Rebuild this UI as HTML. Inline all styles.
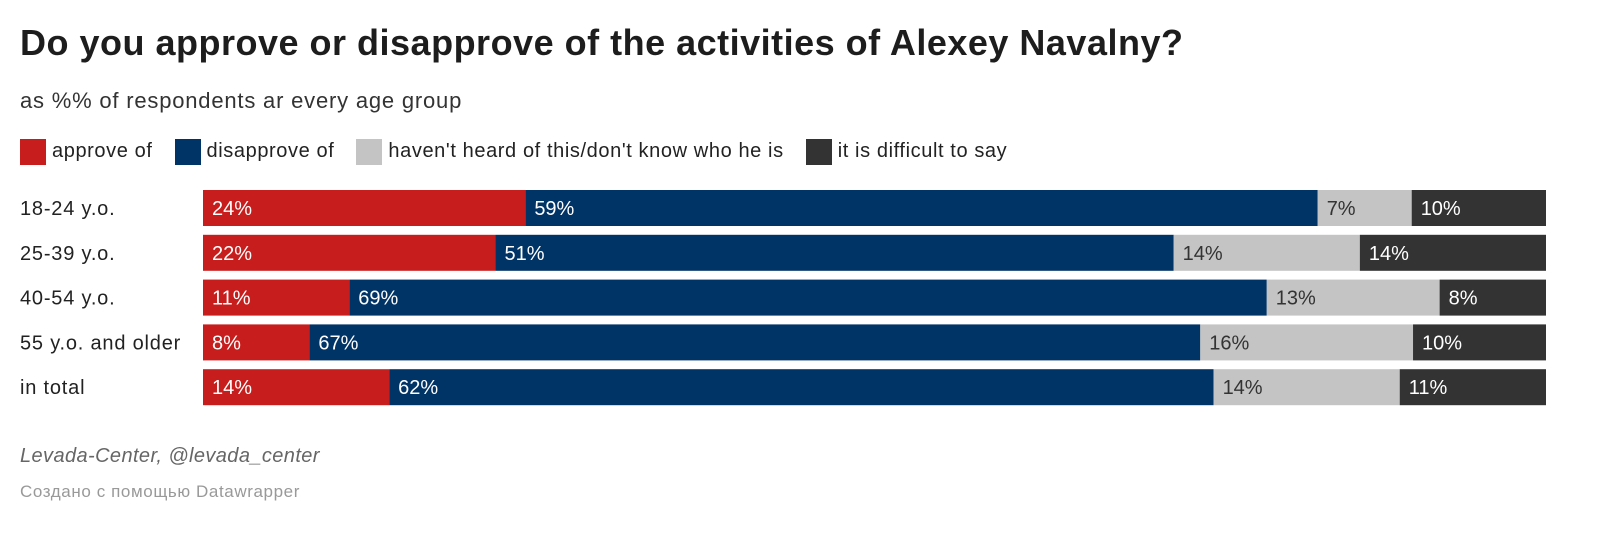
<!DOCTYPE html>
<html><head><meta charset="utf-8"><style>
body{margin:0;width:1600px;height:534px;background:#fff;font-family:"Liberation Sans","Noto Sans CJK SC",sans-serif;overflow:hidden;position:relative}
.abs{position:absolute;white-space:nowrap}
</style></head><body>
<div class="abs" style="left:20px;top:22px;font-size:36px;font-weight:bold;color:#1d1d1d;letter-spacing:0.5px">Do you approve or disapprove of the activities of Alexey Navalny?</div>
<div class="abs" style="left:20px;top:88px;font-size:22px;color:#333;letter-spacing:0.8px">as %% of respondents ar every age group</div>
<div id="legend"></div>
<svg id="chart" class="abs" style="left:0;top:0" width="1600" height="534"></svg>
<div class="abs" style="left:20px;top:445px;font-size:20px;font-style:italic;color:#666;letter-spacing:0.4px">Levada-Center, @levada_center</div>
<div class="abs" style="left:20px;top:482px;font-size:17px;color:#999;letter-spacing:0.6px">Создано с помощью Datawrapper</div>
<script>
const categories=["18-24 y.o.","25-39 y.o.","40-54 y.o.","55 y.o. and older","in total"];
const seriesNames=["approve of","disapprove of","haven't heard of this/don't know who he is","it is difficult to say"];
const approve=[24,22,11,8,14];
const disapprove=[59,51,69,67,62];
const notHeard=[7,14,13,16,14];
const difficult=[10,14,8,10,11];
const colors=["#c71e1d","#003366","#c4c4c4","#333333"];
const textColors=["#fff","#fff","#333","#fff"];
const series=[approve,disapprove,notHeard,difficult];
const NS="http://www.w3.org/2000/svg";
const svg=document.getElementById("chart");
const x0=203,x1=1546,rowTop=190,pitch=44.8,barH=36;
function xScale(v,total){return x0+(x1-x0)*v/total;}
function yScale(i){return rowTop+i*pitch;}
categories.forEach((c,i)=>{
  const y=yScale(i);
  const lab=document.createElementNS(NS,"text");
  
  
  lab.setAttribute("x",20);lab.setAttribute("y",y+barH/2+7);
  lab.setAttribute("font-size","20");lab.setAttribute("fill","#222");
  lab.setAttribute("letter-spacing","0.8");
  lab.textContent=c;svg.appendChild(lab);
  const total=series.reduce((s,a)=>s+a[i],0);
  let acc=0;
  series.forEach((arr,k)=>{
    const v=arr[i];
    const xa=xScale(acc,total),xb=xScale(acc+v,total);
    const r=document.createElementNS(NS,"rect");
    
    
    r.setAttribute("x",xa);r.setAttribute("y",y);
    r.setAttribute("width",xb-xa);r.setAttribute("height",barH);
    r.setAttribute("fill",colors[k]);svg.appendChild(r);
    const t=document.createElementNS(NS,"text");
    
    
    t.setAttribute("x",xa+9);t.setAttribute("y",y+barH/2+7);
    t.setAttribute("font-size","20");t.setAttribute("fill",textColors[k]);
    t.textContent=v+"%";svg.appendChild(t);
    acc+=v;
  });
});
const leg=document.getElementById("legend");
let lx=20;
seriesNames.forEach((n,k)=>{
  const sw=document.createElement("div");
  
  
  sw.className="abs";
  sw.style.cssText=`left:${lx}px;top:139px;width:26px;height:26px;background:${colors[k]}`;
  leg.appendChild(sw);
  const tx=document.createElement("div");
  
  
  tx.className="abs";
  tx.style.cssText=`left:${lx+32}px;top:140px;font-size:20px;color:#222;letter-spacing:0.6px`;
  tx.textContent=n;leg.appendChild(tx);
  lx+=tx.getBoundingClientRect().width+32+22;
});
</script>
</body></html>
